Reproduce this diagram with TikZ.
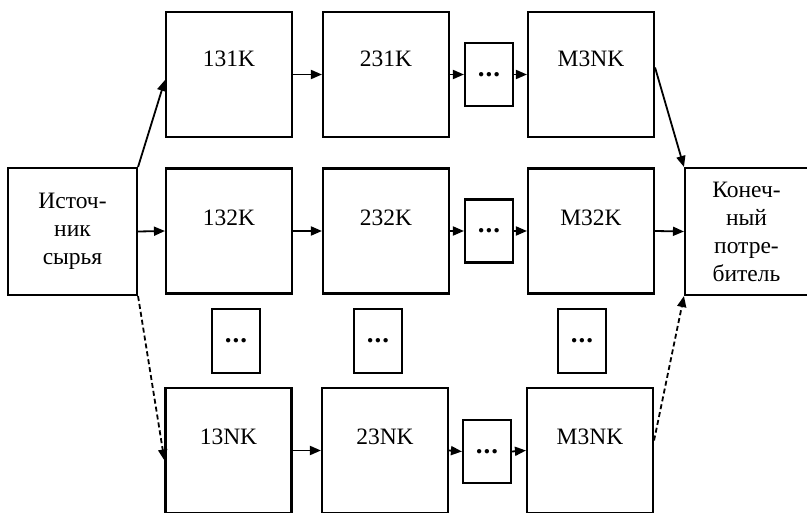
\documentclass[tikz,border=0pt]{standalone}
\usepackage{fontspec}
\setmainfont{Liberation Serif}
\usetikzlibrary{arrows.meta}
\begin{document}
\begin{tikzpicture}[x=1pt,y=-1pt,
  bigbox/.style={draw, line width=2.1pt, minimum width=126pt, minimum height=125pt, inner sep=0pt},
  dotbox/.style={draw, line width=2.1pt, minimum width=48pt, minimum height=63pt, inner sep=0pt, font=\fontsize{27}{30}\selectfont\bfseries},
  endbox/.style={draw, line width=2.1pt, inner sep=0pt, align=center, font=\fontsize{23.5}{28}\selectfont},
  lbl/.style={font=\fontsize{23.5}{28}\selectfont, inner sep=0pt},
  arr/.style={line width=1.8pt, -{Triangle[length=11pt,width=9pt]}},
  dasharr/.style={arr, dash pattern=on 5pt off 3pt}]
\useasboundingbox (0,0) rectangle (807,513);
% source and sink
\node[endbox, minimum width=129pt, minimum height=127pt] (src) at (72.5,231.5) {Источ-\\ник\\сырья};
\node[endbox, minimum width=123pt, minimum height=127pt] (snk) at (746.5,231.5) {Конеч-\\ный\\потре-\\битель};
% row 1
\node[bigbox] (b11) at (229,74.5) {};
\node[bigbox] (b21) at (386,74.5) {};
\node[dotbox] (d1) at (489,74.5) {.\kern1pt.\kern1pt.};
\node[bigbox] (b31) at (591,74.5) {};
% row 2
\node[bigbox] (b12) at (229,231) {};
\node[bigbox] (b22) at (386,231) {};
\node[dotbox] (d2) at (489,231) {.\kern1pt.\kern1pt.};
\node[bigbox] (b32) at (591,231) {};
% middle dots
\node[dotbox, minimum height=64pt] (m1) at (236,341) {.\kern1pt.\kern1pt.};
\node[dotbox, minimum height=64pt] (m2) at (378,341) {.\kern1pt.\kern1pt.};
\node[dotbox, minimum height=64pt] (m3) at (582,341) {.\kern1pt.\kern1pt.};
% row 3
\node[bigbox] (b13) at (228.5,450.5) {};
\node[bigbox] (b23) at (385,450.5) {};
\node[dotbox] (d3) at (487,451.5) {.\kern1pt.\kern1pt.};
\node[bigbox] (b33) at (590,450.5) {};
% labels
\node[lbl] (l11) at ([yshift=-48pt]b11.north) {131K};
\node[lbl] (l21) at ([yshift=-48pt]b21.north) {231K};
\node[lbl] (l31) at ([yshift=-48pt]b31.north) {M3NK};
\node[lbl] (l12) at ([yshift=-50pt]b12.north) {132K};
\node[lbl] (l22) at ([yshift=-50pt]b22.north) {232K};
\node[lbl] (l32) at ([yshift=-50pt]b32.north) {M32K};
\node[lbl] (l13) at ([yshift=-50pt]b13.north) {13NK};
\node[lbl] (l23) at ([yshift=-50pt]b23.north) {23NK};
\node[lbl] (l33) at ([yshift=-50pt]b33.north) {M3NK};
% arrows row 1
\draw[arr] (b11.east) -- (b21.west);
\draw[arr] (b21.east) -- (d1.west);
\draw[arr] (d1.east) -- (b31.west);
% arrows row 2
\draw[arr] (b12.east) -- (b22.west);
\draw[arr] (b22.east) -- (d2.west);
\draw[arr] (d2.east) -- (b32.west);
% arrows row 3
\draw[arr] (b13.east) -- (b23.west);
\draw[arr] (b23.east) -- (d3.west);
\draw[arr] (d3.east) -- (b33.west);
% source connectors
\draw[arr] (src.north east) -- ([yshift=-5.5pt]b11.west);
\draw[arr] (src.east) -- (b12.west);
\draw[dasharr] (src.south east) -- ([yshift=-10pt]b13.west);
% sink connectors
\draw[arr] ([yshift=7pt]b31.east) -- (snk.north west);
\draw[arr] (b32.east) -- (snk.west);
\draw[dasharr] ([yshift=10pt]b33.east) -- (snk.south west);
\end{tikzpicture}
\end{document}
